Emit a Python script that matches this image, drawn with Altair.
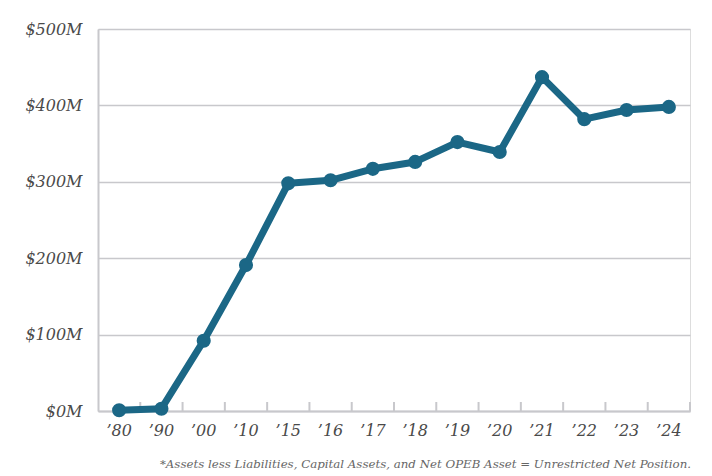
import altair as alt
import pandas as pd

labels = ["\u201980", "\u201990", "\u201900", "\u201910", "\u201915", "\u201916", "\u201917", "\u201918",
          "\u201919", "\u201920", "\u201921", "\u201922", "\u201923", "\u201924"]
values = [1, 3, 92, 191, 298, 302, 317, 326, 352, 339, 437, 382, 394, 398]

df = pd.DataFrame({"year": labels, "value": values})

FONT = "DejaVu Serif"
W, H = 592, 382
color = "#1b6786"

x = alt.X("year:O", sort=labels, title=None,
          scale=alt.Scale(type="band", paddingInner=0, paddingOuter=0),
          axis=alt.Axis(labelAngle=0, ticks=False, labelFont=FONT, labelFontStyle="italic",
                        labelFontSize=16, labelColor="#4a4a4a", labelPadding=11,
                        domainColor="#c8c8cc", domainWidth=2))
y = alt.Y("value:Q", title=None,
          scale=alt.Scale(domain=[0, 500]),
          axis=alt.Axis(values=[0, 100, 200, 300, 400, 500], labelExpr="'$' + datum.value + 'M'",
                        ticks=False, labelFont=FONT, labelFontStyle="italic", labelFontSize=16,
                        labelColor="#4a4a4a", labelPadding=16, domainColor="#c8c8cc",
                        domainWidth=2, gridColor="#c8c8cc", gridWidth=1.5))

base = alt.Chart(df)

ticks = base.mark_rule(color="#c8c8cc", strokeWidth=2).encode(
    x=alt.X("year:O", sort=labels, bandPosition=1),
    y=alt.value(H - 9), y2=alt.value(H))

line = base.mark_line(color=color, strokeWidth=7, strokeJoin="round").encode(
    x=alt.X("year:O", sort=labels, bandPosition=0.5), y="value:Q")
pts = base.mark_circle(color=color, size=200, opacity=1).encode(
    x=alt.X("year:O", sort=labels, bandPosition=0.5), y="value:Q")

axes = base.mark_point(opacity=0).encode(x=x, y=y)

chart = alt.layer(axes, ticks, line, pts).properties(
    width=W, height=H,
    autosize=alt.AutoSizeParams(type="none"),
    padding={"left": 98, "top": 29, "right": 22, "bottom": 65},
    title=alt.TitleParams(
        "*Assets less Liabilities, Capital Assets, and Net OPEB Asset = Unrestricted Net Position.",
        orient="bottom", anchor="end", font=FONT, fontStyle="italic", fontWeight="normal",
        fontSize=11.8, color="#666666", offset=21)
).configure_view(stroke=None).configure(background="white")

chart.save("out.html", embed_options={"renderer": "svg", "actions": False})
